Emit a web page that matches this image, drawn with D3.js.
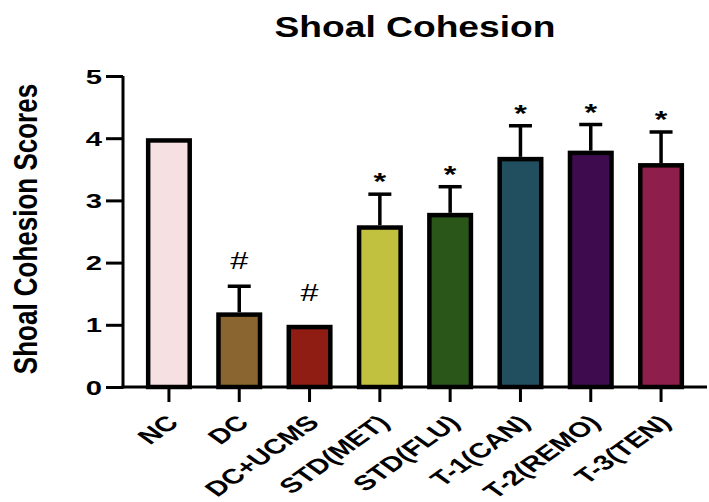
<!DOCTYPE html>
<html>
<head>
<meta charset="utf-8">
<script src="https://cdn.jsdelivr.net/npm/d3@7"></script>
<style>
  body { margin: 0; background: #fff; }
  svg { display: block; font-family: "Liberation Sans", Arial, sans-serif; }
</style>
</head>
<body>
<svg id="chart" width="709" height="502"></svg>
<script>
// data
const groups = ['NC', 'DC', 'DC+UCMS', 'STD(MET)', 'STD(FLU)', 'T-1(CAN)', 'T-2(REMO)', 'T-3(TEN)'];
const means = [4.0, 1.2, 1.0, 2.6, 2.8, 3.7, 3.8, 3.6];
const errors = [0, 0.42, 0, 0.5, 0.42, 0.5, 0.42, 0.5];
const marks = ['', '#', '#', '*', '*', '*', '*', '*'];
const colors = ['#f7e0e1', '#8b6530', '#8f1d14', '#c2c03f', '#2b561a', '#224f60', '#3e0b4e', '#8e1e4b'];
const yTicks = [0, 1, 2, 3, 4, 5];

// reference glyphs are stretched horizontally
const SX_TITLE = 1.24, SX_YTITLE = 1.3, SX_TICK = 1.5, SX_XLAB = 1.4, SX_MARK = 1.35;
const svg = d3.select('#chart');

const x = d3.scaleBand()
  .domain(groups)
  .range([123, 707])
  .paddingInner(0.345)
  .paddingOuter(0.326);

const y = d3.scaleLinear()
  .domain([0, 5])
  .range([387, 76]);

// title
svg.append('text')
  .attr('transform', `translate(415,37) scale(${SX_TITLE},1)`)
  .attr('text-anchor', 'middle')
  .style('font-size', '30px')
  .style('font-weight', 'bold')
  .text('Shoal Cohesion');

// y title
svg.append('text')
  .attr('transform', `translate(37,229) scale(${SX_YTITLE},1) rotate(-90)`)
  .attr('text-anchor', 'middle')
  .style('font-size', '26px')
  .style('font-weight', 'bold')
  .text('Shoal Cohesion Scores');

// bars
const sw = 4.5;
svg.append('g')
  .selectAll('rect')
  .data(groups)
  .join('rect')
  .attr('x', (d) => x(d) + sw / 2)
  .attr('width', x.bandwidth() - sw)
  .attr('y', (d, i) => y(means[i]) + sw / 2)
  .attr('height', (d, i) => y(0) - y(means[i]) - sw / 2)
  .attr('fill', (d, i) => colors[i])
  .attr('stroke', '#000')
  .attr('stroke-width', sw);

// error bars (upper only)
const eb = svg.append('g').attr('stroke', '#000').attr('stroke-width', 3.5);
groups.forEach((g, i) => {
  if (!errors[i]) return;
  const cx = x(g) + x.bandwidth() / 2;
  eb.append('line')
    .attr('x1', cx).attr('x2', cx)
    .attr('y1', y(means[i])).attr('y2', y(means[i] + errors[i]));
  eb.append('line')
    .attr('x1', cx - 11.5).attr('x2', cx + 11.5)
    .attr('y1', y(means[i] + errors[i])).attr('y2', y(means[i] + errors[i]));
});

// significance marks
svg.append('g')
  .selectAll('text')
  .data(groups)
  .join('text')
  .attr('transform', (d, i) => {
    const cx = x(d) + x.bandwidth() / 2;
    const top = y(means[i] + errors[i]);
    const off = marks[i] === '#' ? (errors[i] ? 17 : 24) : 4;
    return `translate(${cx},${top - off}) scale(${SX_MARK},1)`;
  })
  .attr('text-anchor', 'middle')
  .style('font-size', '24px')
  .style('font-weight', (d, i) => marks[i] === '#' ? 'normal' : 'bold')
  .text((d, i) => marks[i]);

// y axis
const yAxis = d3.axisLeft(y).tickValues(yTicks).tickSize(17).tickSizeOuter(0).tickFormat(d3.format('d'));
const gy = svg.append('g').attr('transform', 'translate(123,0)').call(yAxis);
gy.select('.domain').attr('stroke-width', 3).attr('d', `M0,${y(5)}V${y(0) + 1.5}`);
gy.selectAll('.tick line').attr('stroke-width', 3);
gy.selectAll('.tick text')
  .attr('x', null)
  .attr('dy', null)
  .attr('transform', `translate(-21,7) scale(${SX_TICK},1)`)
  .attr('fill', '#000')
  .style('font-size', '19.5px')
  .style('font-weight', 'bold')
  .style('font-family', '"Liberation Sans", Arial, sans-serif');

// x axis
const xAxis = d3.axisBottom(x).tickSize(15).tickSizeOuter(0);
const gx = svg.append('g').attr('transform', `translate(0,${y(0)})`).call(xAxis);
gx.select('.domain').attr('stroke-width', 3).attr('d', `M121.5,0H707`);
gx.selectAll('.tick line').attr('stroke-width', 3);
gx.selectAll('.tick text')
  .attr('y', null)
  .attr('dy', null)
  .attr('text-anchor', 'end')
  .attr('transform', `translate(11,37) scale(${SX_XLAB},1) rotate(-45)`)
  .attr('fill', '#000')
  .style('font-size', '21px')
  .style('font-weight', 'bold')
  .style('font-family', '"Liberation Sans", Arial, sans-serif');
</script>
</body>
</html>
